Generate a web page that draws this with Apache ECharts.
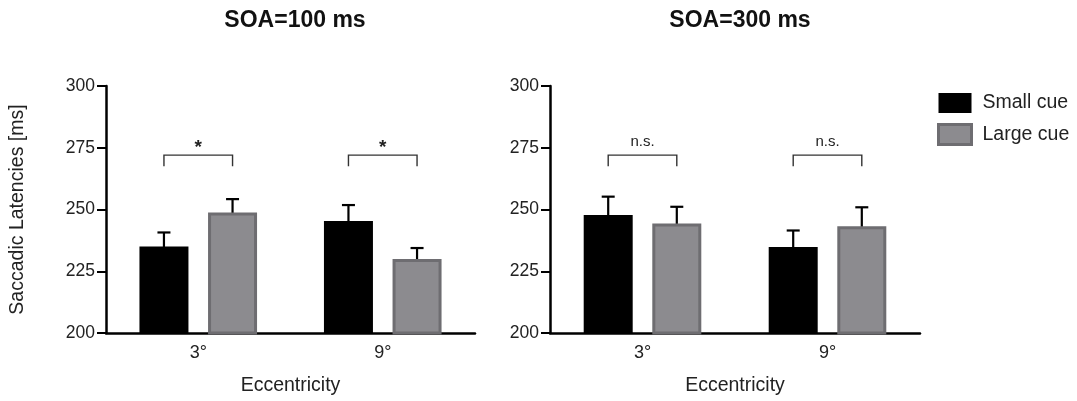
<!DOCTYPE html>
<html>
<head>
<meta charset="utf-8">
<script src="https://cdn.jsdelivr.net/npm/echarts@6/dist/echarts.min.js"></script>
<style>
html,body{margin:0;padding:0;background:#fff;}
#chart{width:1077px;height:401px;}
</style>
</head>
<body>
<div id="chart"></div>
<script>
// ---- data ----
var categories = ['3°', '9°'];
var panelTitles = ['SOA=100 ms', 'SOA=300 ms'];
var seriesNames = ['Small cue', 'Large cue'];
var yTicks = [200, 225, 250, 275, 300];
// SOA=100 ms
var soa100Small = [235, 245.3];
var soa100Large = [248.8, 230];
var soa100SmallErr = [5.7, 6.5];
var soa100LargeErr = [5.4, 4.4];
// SOA=300 ms
var soa300Small = [247.8, 234.8];
var soa300Large = [244.3, 243.2];
var soa300SmallErr = [7.4, 6.7];
var soa300LargeErr = [6.8, 7.7];
// significance brackets (value level of bracket, label)
var sig100 = ['*', '*'];
var sig300 = ['n.s.', 'n.s.'];
var bracketLevel = [272, 272];

var BLACK = '#000000';
var GRAY = '#8c8b8f';
var GRAY_BORDER = '#6e6d71';
var FONT = 'Liberation Sans, Arial, Helvetica, sans-serif';

var chart = echarts.init(document.getElementById('chart'), null, {renderer: 'canvas'});

var BAR_W = 49;
var BAR_GAP = 0.4;
var OFFSET = (BAR_W + BAR_W * BAR_GAP) / 2;

function errSeries(idx, values, errs, side) {
  var data = values.map(function (v, i) { return [i, v, v + errs[i]]; });
  return {
    type: 'custom', xAxisIndex: idx, yAxisIndex: idx, z: 1,
    data: data, silent: true,
    renderItem: function (params, api) {
      var x = api.value(0);
      var lo = api.coord([x, api.value(1)]);
      var hi = api.coord([x, api.value(2)]);
      var cx = lo[0] + side * OFFSET;
      var loY = lo[1] + 3;
      return {
        type: 'group',
        children: [
          {type: 'line', shape: {x1: cx, y1: loY, x2: cx, y2: hi[1]}, style: {stroke: BLACK, lineWidth: 2.2}},
          {type: 'line', shape: {x1: cx - 6.5, y1: hi[1], x2: cx + 6.5, y2: hi[1]}, style: {stroke: BLACK, lineWidth: 2.2}}
        ]
      };
    }
  };
}

function bracketSeries(idx, labels) {
  var data = labels.map(function (l, i) { return [i, bracketLevel[i], l]; });
  return {
    type: 'custom', xAxisIndex: idx, yAxisIndex: idx, silent: true,
    data: data,
    renderItem: function (params, api) {
      var x = api.value(0);
      var p = api.coord([x, api.value(1)]);
      var x1 = p[0] - OFFSET, x2 = p[0] + OFFSET, y = p[1];
      var label = labels[params.dataIndex];
      var isStar = label === '*';
      return {
        type: 'group',
        children: [
          {type: 'polyline', shape: {points: [[x1, y + 11], [x1, y], [x2, y], [x2, y + 11]]},
           style: {stroke: '#333', lineWidth: 1.4, fill: null}},
          {type: 'text', x: p[0], y: isStar ? y + 2 : y - 6,
           style: {text: label, fill: '#222', font: (isStar ? 'bold 19px ' : '15px ') + FONT,
                   textAlign: 'center', textVerticalAlign: 'bottom'}}
        ]
      };
    }
  };
}

var grids = [
  {left: 106, top: 86, width: 369, height: 247},
  {left: 550, top: 86, width: 370, height: 247}
];

function xAxis(idx) {
  return {
    type: 'category', gridIndex: idx, data: categories,
    axisLine: {lineStyle: {color: '#000', width: 2.5}},
    axisTick: {alignWithLabel: true, length: 7, lineStyle: {color: '#000', width: 3}},
    axisLabel: {color: '#222', fontSize: 18, fontFamily: FONT, margin: 11},
    name: 'Eccentricity', nameLocation: 'middle', nameGap: 43,
    nameTextStyle: {color: '#222', fontSize: 19.5, fontFamily: FONT}
  };
}
function yAxis(idx) {
  var o = {
    type: 'value', gridIndex: idx, min: yTicks[0], max: yTicks[yTicks.length - 1], interval: 25,
    axisLine: {show: true, lineStyle: {color: '#000', width: 2.5}},
    axisTick: {show: true, length: 9, lineStyle: {color: '#000', width: 2}},
    axisLabel: {color: '#222', fontSize: 17.5, fontFamily: FONT, margin: 11},
    splitLine: {show: false}
  };
  if (idx === 0) {
    o.name = 'Saccadic Latencies [ms]';
    o.nameLocation = 'middle';
    o.nameGap = 78;
    o.nameTextStyle = {color: '#222', fontSize: 19.5, fontFamily: FONT};
  }
  return o;
}

function barSeries(idx, name, values, isLarge) {
  return {
    name: name, type: 'bar', xAxisIndex: idx, yAxisIndex: idx,
    data: values, barWidth: BAR_W, barGap: (BAR_GAP * 100) + '%',
    itemStyle: isLarge ? {color: GRAY, borderColor: GRAY_BORDER, borderWidth: 3}
                       : {color: BLACK, borderColor: BLACK, borderWidth: 0},
    z: 2, silent: true
  };
}

var option = {
  animation: false,
  backgroundColor: '#fff',
  title: [
    {text: panelTitles[0], left: 290, top: 4, textAlign: 'center',
     textStyle: {fontSize: 23, fontWeight: 'bold', color: '#111', fontFamily: FONT}},
    {text: panelTitles[1], left: 735, top: 4, textAlign: 'center',
     textStyle: {fontSize: 23, fontWeight: 'bold', color: '#111', fontFamily: FONT}}
  ],
  legend: {
    data: [
      {name: seriesNames[0], itemStyle: {color: BLACK, borderWidth: 0}},
      {name: seriesNames[1], itemStyle: {color: GRAY, borderColor: GRAY_BORDER, borderWidth: 3}}
    ],
    orient: 'vertical', left: 937, top: 93, itemWidth: 33, itemHeight: 20, itemGap: 10,
    icon: 'rect', padding: 0,
    textStyle: {fontSize: 19.5, lineHeight: 20, color: '#222', fontFamily: FONT, padding: [0, 0, 0, 6]}
  },
  grid: grids,
  xAxis: [xAxis(0), xAxis(1)],
  yAxis: [yAxis(0), yAxis(1)],
  series: [
    barSeries(0, seriesNames[0], soa100Small, false),
    barSeries(0, seriesNames[1], soa100Large, true),
    barSeries(1, seriesNames[0], soa300Small, false),
    barSeries(1, seriesNames[1], soa300Large, true),
    errSeries(0, soa100Small, soa100SmallErr, -1),
    errSeries(0, soa100Large, soa100LargeErr, 1),
    errSeries(1, soa300Small, soa300SmallErr, -1),
    errSeries(1, soa300Large, soa300LargeErr, 1),
    bracketSeries(0, sig100),
    bracketSeries(1, sig300)
  ]
};
chart.setOption(option);
</script>
</body>
</html>
